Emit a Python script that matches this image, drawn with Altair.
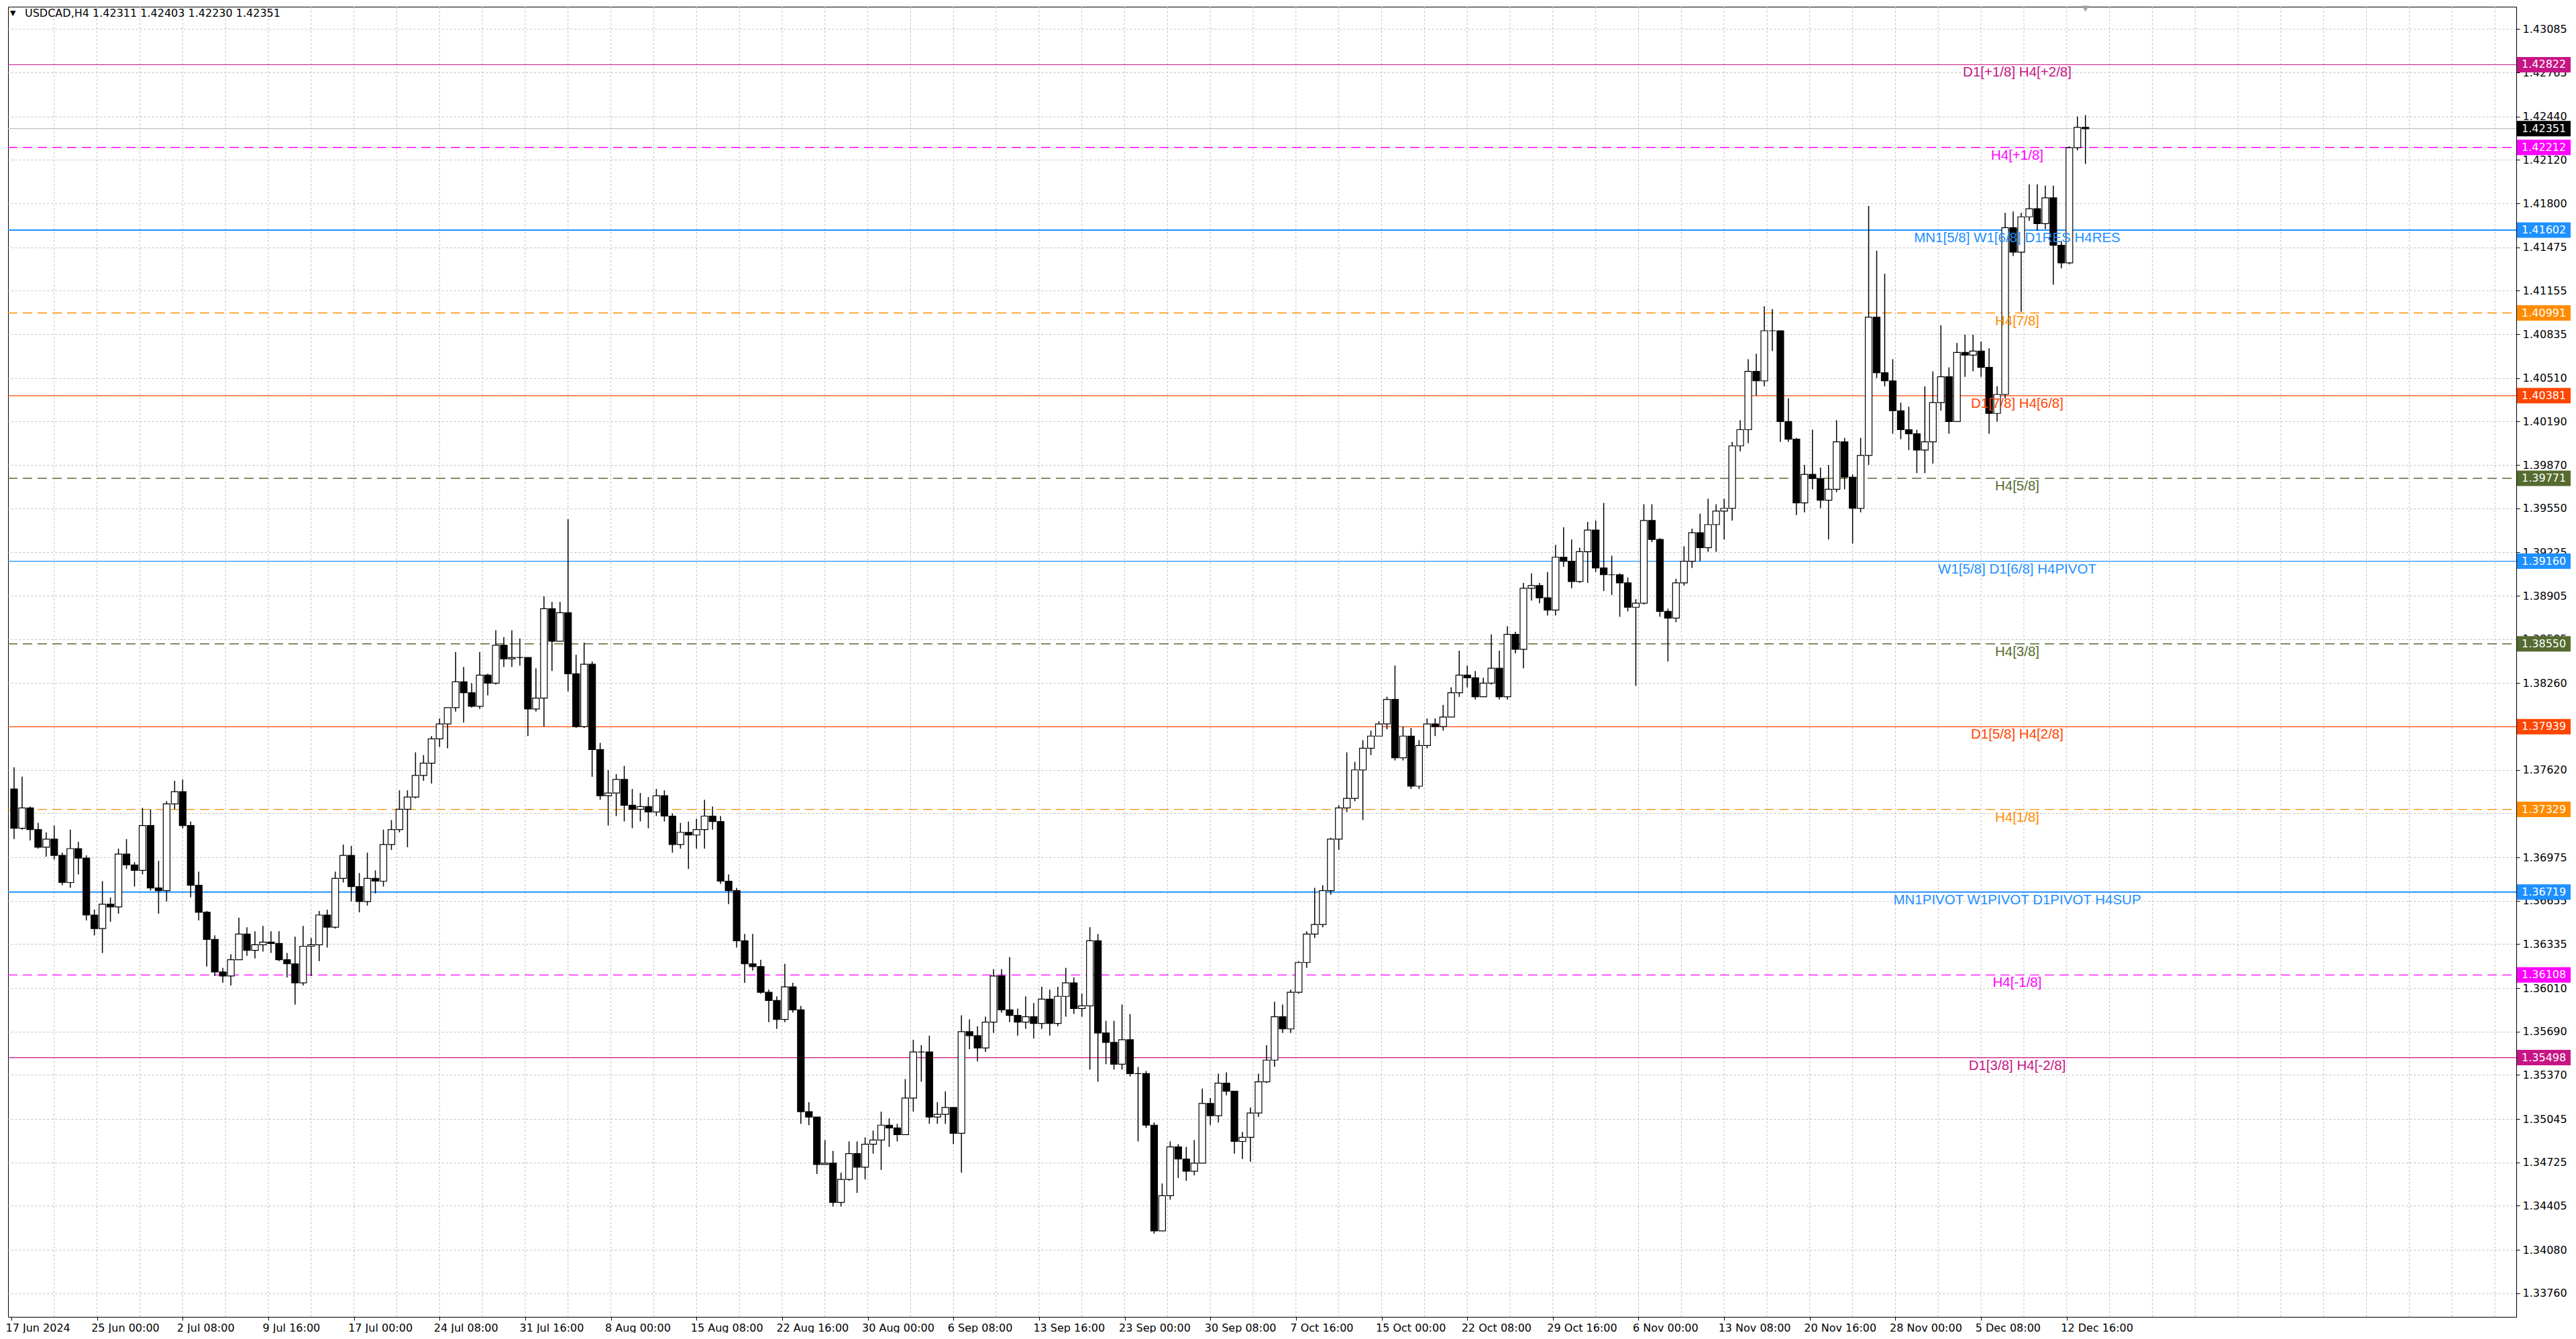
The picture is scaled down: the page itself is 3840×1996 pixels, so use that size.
import altair as alt
import pandas as pd

# ---------------- data (prices in 1/10000 units, 12-hour candles = 3 H4 bars) -------------
first_open = 13748
closes = [
    13719, 13734, 13718, 13705, 13711, 13699, 13679, 13704, 13697, 13655,
    13645, 13663, 13661, 13700, 13692, 13688, 13721, 13675, 13673, 13737,
    13746, 13721, 13677, 13657, 13637, 13613, 13610, 13622, 13641, 13629,
    13633, 13635, 13634, 13622, 13619, 13605, 13632, 13633, 13655, 13646,
    13682, 13699, 13676, 13665, 13682, 13680, 13707, 13718, 13733, 13742,
    13758, 13767, 13785, 13796, 13808, 13827, 13819, 13809, 13832, 13826,
    13854, 13844, 13845, 13845, 13807,
    13815, 13881, 13857, 13878, 13833, 13794, 13840, 13777, 13743, 13745,
    13755, 13736, 13733, 13735, 13731, 13743, 13728, 13707, 13716, 13714,
    13718, 13728, 13724, 13680, 13673, 13636, 13619, 13617, 13598, 13592,
    13578, 13602, 13585, 13510, 13506, 13471, 13472, 13443, 13460, 13479,
    13469, 13486, 13489, 13500, 13498, 13493, 13520, 13554, 13554, 13506,
    13508, 13513, 13494, 13569, 13566, 13557, 13576, 13610, 13585, 13581,
    13576, 13580, 13575, 13593, 13575,
    13595, 13605, 13586, 13588, 13636, 13568, 13561, 13545, 13563, 13538,
    13538, 13500, 13422, 13448, 13484, 13475, 13466, 13472, 13516, 13507,
    13531, 13525, 13488, 13491, 13509, 13532, 13548, 13580, 13571, 13598,
    13620, 13641, 13648, 13673, 13711, 13734, 13741, 13762, 13778, 13787,
    13796, 13814, 13771, 13787, 13750, 13780, 13796, 13794, 13801, 13819,
    13832, 13830, 13816, 13826, 13837, 13816, 13862, 13851, 13896, 13898,
    13889, 13880, 13919, 13916, 13901,
    13923, 13939, 13911, 13906, 13906, 13900, 13882, 13885, 13946, 13932,
    13879, 13874, 13900, 13916, 13937, 13926, 13943, 13953, 13955, 14001,
    14013, 14056, 14049, 14086, 14086, 14019, 14006, 13959, 13980, 13977,
    13961, 13969, 14004, 13978, 13955, 13994, 14096, 14055, 14049, 14027,
    14013, 14010, 13998, 14004, 14033, 14052, 14019, 14070, 14068, 14071,
    14059, 14025, 14039, 14162, 14144, 14170, 14176, 14165, 14184, 14149,
    14136, 14221, 14236, 14235,
]
highs = [
    13764, 13757, 13735, 13723, 13716, 13721, 13701, 13718, 13709, 13699,
    13659, 13680, 13668, 13704, 13711, 13694, 13734, 13733, 13695, 13739,
    13754, 13755, 13724, 13687, 13658, 13640, 13616, 13626, 13653, 13646,
    13643, 13647, 13643, 13643, 13627, 13639, 13647, 13638, 13658, 13659,
    13687, 13707, 13706, 13686, 13701, 13688, 13718, 13725, 13747, 13747,
    13775, 13773, 13787, 13800, 13808, 13849, 13838, 13826, 13849, 13833,
    13865, 13860, 13865, 13859, 13845,
    13837, 13890, 13886, 13886, 13947, 13847, 13856, 13842, 13782, 13762,
    13759, 13765, 13748, 13745, 13742, 13748, 13747, 13730, 13723, 13724,
    13726, 13740, 13735, 13728, 13685, 13675, 13641, 13641, 13622, 13600,
    13595, 13619, 13605, 13588, 13517, 13506, 13489, 13481, 13465, 13488,
    13488, 13491, 13496, 13510, 13505, 13501, 13534, 13563, 13559, 13566,
    13517, 13525, 13508, 13581, 13578, 13573, 13580, 13615, 13615, 13624,
    13586, 13595, 13590, 13602, 13600,
    13602, 13616, 13609, 13597, 13646, 13641, 13577, 13577, 13589, 13582,
    13543, 13540, 13502, 13457, 13488, 13486, 13484, 13489, 13527, 13520,
    13538, 13539, 13525, 13495, 13513, 13538, 13559, 13591, 13589, 13600,
    13621, 13643, 13675, 13677, 13712, 13736, 13775, 13768, 13784, 13791,
    13798, 13816, 13839, 13794, 13793, 13784, 13800, 13800, 13810, 13823,
    13850, 13839, 13835, 13830, 13862, 13850, 13868, 13864, 13900, 13907,
    13900, 13908, 13928, 13941, 13932,
    13926, 13945, 13946, 13959, 13920, 13907, 13904, 13888, 13958, 13958,
    13933, 13881, 13903, 13927, 13940, 13951, 13962, 13958, 13962, 14004,
    14020, 14065, 14069, 14104, 14102, 14086, 14036, 14007, 13987, 14013,
    13985, 13987, 14020, 14007, 13980, 14007, 14178, 14145, 14128, 14065,
    14033, 14030, 14013, 14045, 14056, 14090, 14059, 14077, 14083, 14083,
    14078, 14073, 14045, 14173, 14174, 14173, 14194, 14194, 14193, 14193,
    14152, 14222, 14244, 14245,
]
lows = [
    13711, 13718, 13710, 13704, 13698, 13696, 13677, 13675, 13685, 13651,
    13640, 13627, 13650, 13656, 13689, 13676, 13685, 13673, 13656, 13665,
    13733, 13719, 13668, 13651, 13617, 13610, 13605, 13603, 13622, 13625,
    13623, 13628, 13627, 13621, 13609, 13589, 13603, 13610, 13621, 13631,
    13645, 13679, 13665, 13657, 13662, 13671, 13676, 13703, 13716, 13705,
    13741, 13754, 13752, 13779, 13778, 13805, 13797, 13808, 13807, 13817,
    13825, 13838, 13838, 13839, 13787,
    13805, 13794, 13835, 13857, 13820, 13793, 13793, 13757, 13740, 13721,
    13728, 13724, 13719, 13724, 13719, 13728, 13724, 13701, 13704, 13689,
    13704, 13704, 13718, 13678, 13663, 13631, 13605, 13614, 13597, 13576,
    13571, 13576, 13583, 13501, 13500, 13464, 13471, 13440, 13440, 13459,
    13450, 13460, 13479, 13467, 13484, 13488, 13493, 13510, 13532, 13501,
    13501, 13501, 13486, 13465, 13556, 13547, 13554, 13568, 13583, 13576,
    13566, 13571, 13564, 13571, 13566,
    13573, 13580, 13582, 13580, 13541, 13532, 13545, 13541, 13541, 13536,
    13488, 13498, 13420, 13422, 13445, 13461, 13459, 13463, 13472, 13500,
    13502, 13522, 13479, 13475, 13473, 13506, 13531, 13543, 13568, 13568,
    13597, 13616, 13638, 13646, 13670, 13703, 13731, 13739, 13725, 13773,
    13787, 13792, 13769, 13769, 13748, 13748, 13778, 13787, 13791, 13802,
    13816, 13823, 13814, 13816, 13825, 13814, 13814, 13848, 13837, 13887,
    13885, 13876, 13876, 13912, 13896,
    13900, 13900, 13908, 13894, 13891, 13875, 13879, 13824, 13884, 13930,
    13875, 13842, 13871, 13898, 13911, 13916, 13923, 13923, 13932, 13946,
    13997, 14003, 14038, 14045, 14071, 14004, 14004, 13950, 13952, 13969,
    13955, 13932, 13967, 13969, 13929, 13952, 13987, 14051, 14045, 14010,
    14006, 13998, 13981, 13981, 13988, 14027, 14010, 14019, 14052, 14056,
    14052, 14010, 14019, 14036, 14141, 14100, 14167, 14160, 14161, 14120,
    14132, 14135, 14219, 14209,
]

x_tick_labels = [
    "17 Jun 2024", "25 Jun 00:00", "2 Jul 08:00", "9 Jul 16:00", "17 Jul 00:00",
    "24 Jul 08:00", "31 Jul 16:00", "8 Aug 00:00", "15 Aug 08:00", "22 Aug 16:00",
    "30 Aug 00:00", "6 Sep 08:00", "13 Sep 16:00", "23 Sep 00:00", "30 Sep 08:00",
    "7 Oct 16:00", "15 Oct 00:00", "22 Oct 08:00", "29 Oct 16:00", "6 Nov 00:00",
    "13 Nov 08:00", "20 Nov 16:00", "28 Nov 00:00", "5 Dec 08:00", "12 Dec 16:00",
]
y_ticks = [
    1.43085, 1.42765, 1.42440, 1.42120, 1.41800, 1.41475, 1.41155, 1.40835,
    1.40510, 1.40190, 1.39870, 1.39550, 1.39225, 1.38905, 1.38585, 1.38260,
    1.37940, 1.37620, 1.37300, 1.36975, 1.36655, 1.36335, 1.36010, 1.35690,
    1.35370, 1.35045, 1.34725, 1.34405, 1.34080, 1.33760,
]

level_values = [1.42822, 1.42212, 1.41602, 1.40991, 1.40381, 1.39771, 1.39160,
                1.38550, 1.37939, 1.37329, 1.36719, 1.36108, 1.35498]
level_names = ["D1[+1/8] H4[+2/8]", "H4[+1/8]", "MN1[5/8] W1[6/8] D1RES H4RES",
               "H4[7/8]", "D1[7/8] H4[6/8]", "H4[5/8]", "W1[5/8] D1[6/8] H4PIVOT",
               "H4[3/8]", "D1[5/8] H4[2/8]", "H4[1/8]",
               "MN1PIVOT W1PIVOT D1PIVOT H4SUP", "H4[-1/8]", "D1[3/8] H4[-2/8]"]
level_colors = ["#C71585", "#FF00FF", "#1E90FF", "#FF8C00", "#FF4500", "#556B2F",
                "#1E90FF", "#556B2F", "#FF4500", "#FF8C00", "#1E90FF", "#FF00FF",
                "#C71585"]
level_dashed = [False, True, False, True, False, True, False, True, False, True,
                False, True, False]
level_widths = [1.2, 1.4, 2, 1.4, 1.2, 1.4, 1.2, 1.4, 1.2, 1.4, 2, 1.4, 1.2]

symbol_title = "USDCAD,H4  1.42311 1.42403 1.42230 1.42351"
last_price = 1.42351

# ---------------- layout ----------------
W, H = 3739, 1953
Y_MIN, Y_MAX = 1.33586, 1.43250
X_MIN = 0.0                            # in H4 bars (4 px per bar)
X_MAX = X_MIN + W / 4
BARS_PER_CANDLE = 3
LABEL_EVERY = 32
GRID_EVERY = 16
LABEL_X_PX = 2995
BOX_HALF = 11.5 * (Y_MAX - Y_MIN) / H
AXFONT = "DejaVu Sans"
LVLFONT = "Liberation Sans"

n = min(len(closes), len(highs), len(lows))
opens = [first_open] + closes[: n - 1]
candles = pd.DataFrame({
    "bar": [BARS_PER_CANDLE * i + 1 for i in range(n)],
    "open": [v / 1e4 for v in opens[:n]],
    "close": [v / 1e4 for v in closes[:n]],
    "high": [v / 1e4 for v in highs[:n]],
    "low": [v / 1e4 for v in lows[:n]],
})
candles["bull"] = candles["close"] >= candles["open"]

levels = pd.DataFrame({
    "value": level_values, "name": level_names, "color": level_colors,
    "dashed": level_dashed, "width": level_widths,
})
levels["top"] = levels["value"] + BOX_HALF
levels["bottom"] = levels["value"] - BOX_HALF
levels["txt"] = levels["value"].map(lambda v: f"{v:.5f}")

price_box = pd.DataFrame({"value": [last_price], "top": [last_price + BOX_HALF],
                          "bottom": [last_price - BOX_HALF],
                          "txt": [f"{last_price:.5f}"]})

xs = alt.Scale(domain=[X_MIN, X_MAX], nice=False, zero=False)
ys = alt.Scale(domain=[Y_MIN, Y_MAX], nice=False, zero=False)

label_arr = "[" + ",".join(f"'{s}'" for s in x_tick_labels) + "]"
x_axis = alt.Axis(
    values=[LABEL_EVERY * i for i in range(len(x_tick_labels))],
    labelExpr=f"{label_arr}[round(datum.value/{LABEL_EVERY})]",
    labelAlign="left", labelAngle=0, labelFont=AXFONT, labelFontSize=16,
    labelColor="#000000", labelPadding=3, labelOffset=-9, labelOverlap=False,
    labelFlush=False, tickSize=5, tickColor="#000000", domainColor="#000000",
    grid=False, title=None,
)
y_axis = alt.Axis(
    orient="right", values=y_ticks, format=".5f", labelFont=AXFONT, labelFontSize=16,
    labelColor="#000000", labelPadding=4, tickSize=5, tickColor="#000000",
    domainColor="#000000", grid=True, gridColor="#C0C0C0", gridDash=[3, 3],
    labelOverlap=False, title=None,
)


def X(field):
    return alt.X(field, scale=xs, axis=x_axis, title=None)


def Y(field):
    return alt.Y(field, scale=ys, axis=y_axis, title=None)


vgrid = alt.Chart(pd.DataFrame({"bar": [GRID_EVERY * k for k in range(1, 59)]})).mark_rule(
    color="#C0C0C0", strokeDash=[3, 3], strokeWidth=1
).encode(x=X("bar:Q"), y=alt.value(0), y2=alt.value(H))

price_line = alt.Chart(price_box).mark_rule(color="#C0C0C0", strokeWidth=1.2).encode(
    y=Y("value:Q"), x=alt.value(0), x2=alt.value(W))

solid = alt.Chart(levels[~levels["dashed"]]).mark_rule().encode(
    y=Y("value:Q"), x=alt.value(0), x2=alt.value(W),
    color=alt.Color("color:N", scale=None), strokeWidth=alt.StrokeWidth("width:Q", scale=None))
dashed = alt.Chart(levels[levels["dashed"]]).mark_rule(strokeDash=[14, 8]).encode(
    y=Y("value:Q"), x=alt.value(0), x2=alt.value(W),
    color=alt.Color("color:N", scale=None), strokeWidth=alt.StrokeWidth("width:Q", scale=None))

wicks = alt.Chart(candles).mark_rule(color="#000000", strokeWidth=1.5).encode(
    x=X("bar:Q"), y=Y("low:Q"), y2="high:Q")

bodies = alt.Chart(candles).mark_bar(size=10, stroke="#000000", strokeWidth=1.2).encode(
    x=X("bar:Q"), y=Y("open:Q"), y2="close:Q",
    fill=alt.condition("datum.bull", alt.value("#FFFFFF"), alt.value("#000000")))

level_text = alt.Chart(levels).mark_text(
    font=LVLFONT, fontSize=20.5, align="center", baseline="middle", dy=12
).encode(x=alt.value(LABEL_X_PX), y=Y("value:Q"),
         text="name:N", color=alt.Color("color:N", scale=None))

boxes = alt.Chart(levels).mark_rect().encode(
    x=alt.value(W + 1), x2=alt.value(W + 81),
    y=Y("top:Q"), y2="bottom:Q",
    color=alt.Color("color:N", scale=None))
box_text = alt.Chart(levels).mark_text(
    font=AXFONT, fontSize=16, align="left", baseline="middle", color="#FFFFFF"
).encode(x=alt.value(W + 8), y=Y("value:Q"), text="txt:N")

pbox = alt.Chart(price_box).mark_rect(color="#000000").encode(
    x=alt.value(W + 1), x2=alt.value(W + 81),
    y=Y("top:Q"), y2="bottom:Q")
pbox_text = alt.Chart(price_box).mark_text(
    font=AXFONT, fontSize=16, align="left", baseline="middle", color="#FFFFFF"
).encode(x=alt.value(W + 8), y=Y("value:Q"), text="txt:N")

title = alt.Chart(pd.DataFrame({"t": [symbol_title]})).mark_text(
    font=AXFONT, fontSize=16, align="left", baseline="middle", color="#000000"
).encode(x=alt.value(25), y=alt.value(10), text="t:N")
title_tri = alt.Chart(pd.DataFrame({"t": ["\u25BC"]})).mark_text(
    font=AXFONT, fontSize=11, align="left", baseline="middle", color="#000000"
).encode(x=alt.value(3), y=alt.value(10), text="t:N")

shift_marker = alt.Chart(candles.tail(1)).mark_point(
    shape="triangle-down", filled=True, color="#A0A0A0", size=110, opacity=1
).encode(x=X("bar:Q"), y=alt.value(3))

chart = alt.layer(
    vgrid, price_line, solid, dashed, wicks, bodies, level_text,
    boxes, box_text, pbox, pbox_text, title_tri, title, shift_marker,
).properties(
    width=W, height=H, padding=0, background="#FFFFFF"
).configure_view(stroke="#000000", strokeWidth=1)

chart.save("out.html", embed_options={"renderer": "svg", "actions": False})
